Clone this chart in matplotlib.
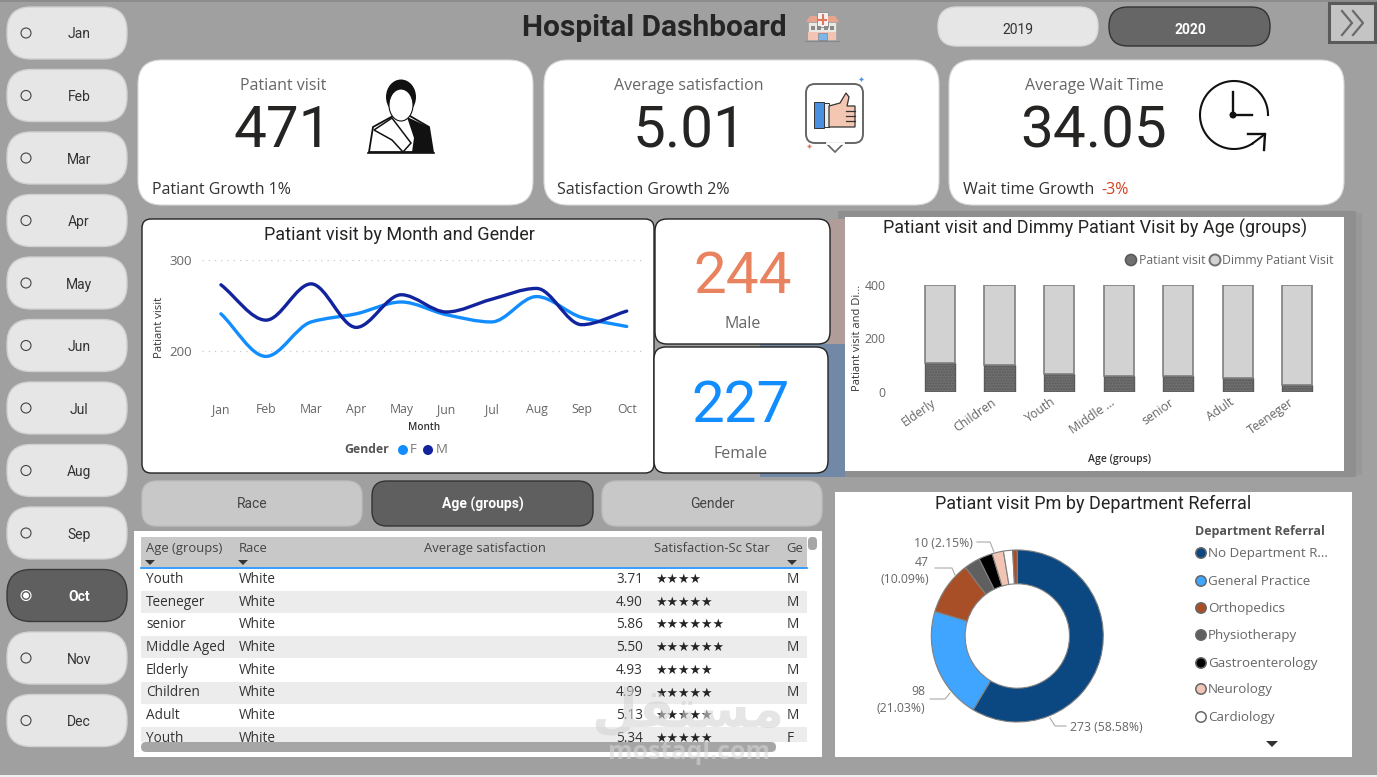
import numpy as np
import matplotlib
matplotlib.use("Agg")
import matplotlib.pyplot as plt
from matplotlib.patches import FancyBboxPatch, Rectangle, Circle, Ellipse, PathPatch, Polygon
from matplotlib.path import Path
from matplotlib.transforms import ScaledTranslation

W, H = 1377, 777
HEAD = "Roboto"
BODY = "Open Sans"

months = ["Jan", "Feb", "Mar", "Apr", "May", "Jun", "Jul", "Aug", "Sep", "Oct", "Nov", "Dec"]
selected_month = "Oct"

line_months = months[:10]
visits_f = [241, 194, 232, 241, 254, 240, 232, 260, 237, 227]
visits_m = [273, 234, 274, 226, 262, 243, 257, 269, 229, 244]

age_groups = ["Elderly", "Children", "Youth", "Middle ...", "senior", "Adult", "Teeneger"]
age_visits = [106, 100, 66, 59, 59, 52, 25]
age_dummy = [294, 300, 334, 341, 341, 348, 375]

departments = ["No Department R...", "General Practice", "Orthopedics", "Physiotherapy",
               "Gastroenterology", "Neurology", "Cardiology"]
dept_values = [273, 98, 47, 14, 12, 10, 8, 4]
dept_colors = ["#0B4780", "#3FA5FF", "#A94F28", "#5F5F5F", "#000000", "#F2C4B3", "#FFFFFF", "#A94F28"]

table_age = ["Youth", "Teeneger", "senior", "Middle Aged", "Elderly", "Children", "Adult", "Youth"]
table_sat = [3.71, 4.90, 5.86, 5.50, 4.93, 4.99, 5.13, 5.34]
table_stars = [4, 5, 6, 6, 5, 5, 5, 5]
table_gender = ["M", "M", "M", "M", "M", "M", "M", "F"]

fig = plt.figure(figsize=(W / 100, H / 100), dpi=100, facecolor="#A0A0A0")


def px_axes(l, t, r, b, z=2):
    a = fig.add_axes([l / W, 1 - b / H, (r - l) / W, (b - t) / H], zorder=z)
    a.patch.set_alpha(0)
    return a


bg = fig.add_axes([0, 0, 1, 1], zorder=0)
bg.set_xlim(0, W)
bg.set_ylim(H, 0)
bg.axis("off")
top = fig.add_axes([0, 0, 1, 1], zorder=5)
top.set_xlim(0, W)
top.set_ylim(H, 0)
top.axis("off")


def box(l, t, r, b, rad=0, fc="white", ec="none", lw=1, z=1, a=bg):
    if rad:
        p = FancyBboxPatch((l, t), r - l, b - t, boxstyle=f"round,pad=0,rounding_size={rad}",
                           fc=fc, ec=ec, lw=lw, zorder=z)
    else:
        p = Rectangle((l, t), r - l, b - t, fc=fc, ec=ec, lw=lw, zorder=z)
    a.add_patch(p)


def txt(x, y, s, size=10, color="#333333", ha="center", va="center", family=BODY, weight="normal", z=6, a=bg, **kw):
    # the centre of the glyphs sits a bit high with va=center, 1.5px pulls it back
    return a.text(x, y + 1.5, s, fontsize=size, color=color, ha=ha, va=va, family=family, weight=weight, zorder=z, **kw)


# page edges
box(0, 0, W, 2, fc="#8C8C8C")
box(0, 775, W, 777, fc="#EFEFEF")

# month slicer
for i, m in enumerate(months):
    cy = 33 + i * 62.5
    on = m == selected_month
    box(7, cy - 26, 127, cy + 26, rad=24, fc="#5F5F5F" if on else "#E6E6E6",
        ec="#3A3A3A" if on else "#D0D0D0", lw=1)
    bg.add_patch(Circle((26, cy), 5, fc="none", ec="white" if on else "#444444", lw=0.8, zorder=3))
    if on:
        bg.add_patch(Circle((26, cy), 3, fc="white", ec="none", zorder=3))
    txt(79, cy, m, 10, "white" if on else "#333333", family=HEAD, weight="bold" if on else "normal")

# header
txt(654, 26, "Hospital Dashboard", 21.5, "#252525", family=HEAD, weight="bold")
box(938, 7, 1098, 46, rad=19, fc="#E6E6E6", ec="#D8D8D8")
txt(1018, 29, "2019", 10, "#333333", family=HEAD)
box(1109, 7, 1270, 46, rad=19, fc="#666666", ec="#333333")
txt(1190, 29, "2020", 10, "white", family=HEAD, weight="bold")
box(1329, 3, 1375, 42, fc="#C4C4C4", ec="#5A5A5A", lw=2.2)
for dx in (0, 11):
    bg.plot([1342 + dx, 1352 + dx, 1342 + dx], [11, 23, 35], color="#6A6A6A", lw=1.6, zorder=4)

# hospital icon
box(808, 22, 836, 40, fc="#ECE9E4", ec="#A0A0A0", lw=0.5)
box(817, 12, 828, 27, fc="#F2F2F2", ec="#888888", lw=0.6, z=2)
bg.plot([822.5, 822.5], [15, 24], color="#E2765A", lw=1.5, zorder=3)
bg.plot([819, 826], [19.5, 19.5], color="#E2765A", lw=1.5, zorder=3)
bg.add_patch(Polygon([[810, 16], [817, 16], [817, 22], [806, 22]], fc="#E8A48E", ec="none", zorder=2))
bg.add_patch(Polygon([[828, 16], [835, 16], [839, 22], [828, 22]], fc="#E8A48E", ec="none", zorder=2))
for wx in (811, 817, 824, 830):
    box(wx, 26, wx + 3.5, 29.5, fc="#8A8A8A", z=2)
box(808, 32, 836, 40, fc="#F2C4B3", z=2)
box(818, 33, 827, 40, fc="#7CB5E8", ec="#777777", lw=0.4, z=3)
bg.plot([805, 839], [40.5, 40.5], color="#888888", lw=0.8, zorder=3)

# KPI cards
cards = [(138, "Patiant visit", "471", 283, "Patiant Growth 1%", 152),
         (544, "Average satisfaction", "5.01", 689, "Satisfaction Growth 2%", 557),
         (949, "Average Wait Time", "34.05", 1094, "Wait time Growth", 963)]
for left, label, value, cx, foot, fx in cards:
    box(left, 60, left + 395, 205, rad=24, fc="white", ec="#D8D8D8", lw=0.8)
    txt(cx, 85, label, 11.5, "#666666")
    txt(cx, 130, value, 42, "#252423", family=HEAD)
    txt(fx, 188, foot, 11.5, "#333333", ha="left")
txt(1101, 188, "-3%", 11.5, "#D6401F", ha="left")

# person icon
bg.add_patch(Polygon([[369, 152], [373, 127], [393, 116], [410, 116], [429, 127], [433, 152]],
                     fc="white", ec="#111111", lw=1.3, zorder=3))
bg.add_patch(Polygon([[407, 117], [429, 127], [433, 152], [412, 152], [414, 138]], fc="#111111", ec="none", zorder=4))
bg.add_patch(Polygon([[374, 130], [392, 118], [411, 143], [403, 152], [392, 140]],
                     fc="white", ec="#111111", lw=1.1, zorder=5))
bg.add_patch(Ellipse((401, 97), 30, 35, fc="#111111", ec="none", zorder=5))
bg.add_patch(Ellipse((401, 105), 24, 32, fc="white", ec="#111111", lw=0.8, zorder=6))
bg.plot([368, 434], [153, 153], color="#111111", lw=1.2, zorder=6)

# thumb icon
box(806, 84, 863, 143, rad=9, fc="white", ec="#666666", lw=1.4)
bg.add_patch(Polygon([[826, 143], [844, 143], [835, 152]], fc="white", ec="#666666", lw=1.2, zorder=2))
bg.plot([827, 843], [143, 143], color="white", lw=2, zorder=3)
box(814, 102, 824, 128, fc="#4A90E2", ec="#333333", lw=0.7, z=3)
box(824, 103, 829, 127, fc="#EDEDED", ec="#333333", lw=0.7, z=3)
bg.add_patch(Polygon([[829, 106], [840, 103], [846, 93], [849, 97], [847, 106], [855, 106], [855, 127], [829, 127]],
                     fc="#F4C7B2", ec="#333333", lw=0.9, zorder=3))
for fy in (111, 116, 121):
    bg.plot([846, 855], [fy, fy], color="#333333", lw=0.9, zorder=4)
bg.plot(861, 79, marker="+", color="#4A90E2", ms=3, zorder=3)
bg.plot(809, 146, marker="+", color="#E2765A", ms=3, zorder=3)

# clock icon
t = np.radians(np.arange(0, 306, 3))
bg.plot(1234 + 34 * np.cos(t), 115 - 34 * np.sin(t), color="#111111", lw=1.5, zorder=3)
bg.plot([1234 + 34 * np.cos(t[-1]), 1265], [115 - 34 * np.sin(t[-1]), 134], color="#111111", lw=1.5, zorder=3)
bg.plot([1248, 1265, 1264], [134, 134, 150], color="#111111", lw=1.7, zorder=3)
bg.plot([1233, 1233, 1252], [92, 115, 115], color="#111111", lw=1.7, zorder=3)
bg.add_patch(Circle((1233, 115), 3.5, fc="#111111", zorder=3))

# shadow of the bar card, tinted by the gender cards next to it
box(838, 211, 1356, 477, fc="#8F8F8F", z=0)
box(1356, 213, 1362, 475, fc="#989898", z=0)
box(830, 219, 845, 344, fc="#B09C98", z=0)
box(760, 344, 845, 477, fc="#7189A6", z=0)

# line chart card
box(142, 219, 654, 473, rad=9, fc="white", ec="#222222", lw=1)
txt(399, 233, "Patiant visit by Month and Gender", 13, "#252423", family=HEAD)
ax = px_axes(202, 260.3, 645, 396.3)
ax.set_xlim(-0.42, 9.405)
ax.set_ylim(150, 300)
for s in ax.spines.values():
    s.set_visible(False)
ax.set_yticks([200, 300])
ax.grid(axis="y", color="#C8C8C8", ls=(0, (1, 4)), lw=0.9)
ax.set_axisbelow(True)
ax.set_xticks(range(len(line_months)))
ax.set_xticklabels(line_months, family=BODY, fontsize=8.8, color="#666666")
ax.tick_params(length=0, pad=5)
ax.tick_params(axis="y", labelsize=9.5, labelcolor="#666666", pad=7)
for lab in ax.get_yticklabels():
    lab.set_family(BODY)


def smooth_path(ys):
    # monotone cubic through the points, same look as the Power BI smooth line
    ys = np.array(ys, float)
    d = np.diff(ys)
    m = np.zeros(len(ys))
    m[0], m[-1] = d[0], d[-1]
    for i in range(1, len(ys) - 1):
        m[i] = 0 if d[i - 1] * d[i] <= 0 else 2 * d[i - 1] * d[i] / (d[i - 1] + d[i])
    verts = [(0, ys[0])]
    codes = [Path.MOVETO]
    for i in range(len(ys) - 1):
        verts += [(i + 1 / 3, ys[i] + m[i] / 3), (i + 2 / 3, ys[i + 1] - m[i + 1] / 3), (i + 1, ys[i + 1])]
        codes += [Path.CURVE4] * 3
    return Path(verts, codes)


ax.add_patch(PathPatch(smooth_path(visits_f), fc="none", ec="#118DFF", lw=2.4, capstyle="round"))
ax.add_patch(PathPatch(smooth_path(visits_m), fc="none", ec="#12239E", lw=2.4, capstyle="round"))
txt(159, 326, "Patiant visit", 8.2, "#333333", rotation=90)
txt(424, 426, "Month", 7.2, "#333333", weight="semibold")
txt(367, 448, "Gender", 8.8, "#555555", weight="bold")
bg.add_patch(Circle((403, 450), 5, fc="#118DFF", zorder=3))
txt(410, 448, "F", 9.5, "#777777", ha="left")
bg.add_patch(Circle((428, 450), 5, fc="#12239E", zorder=3))
txt(436, 448, "M", 9.5, "#777777", ha="left")

# male / female cards
box(655, 219, 830, 344, rad=12, fc="white", ec="#222222", lw=1)
txt(743, 276, "244", 42, "#E8825F", family=HEAD)
txt(743, 323, "Male", 11.5, "#666666")
box(654, 347, 828, 473, rad=12, fc="white", ec="#222222", lw=1)
txt(741, 405, "227", 42, "#118DFF", family=HEAD)
txt(741, 452, "Female", 11.5, "#666666")

# bar chart card
box(845, 217, 1344, 471, fc="white")
txt(1095, 227, "Patiant visit and Dimmy Patiant Visit by Age (groups)", 13, "#252423", family=HEAD)
ax2 = px_axes(908, 284.7, 1330, 391.7)
x = np.arange(len(age_groups))
ax2.bar(x, age_visits, width=0.51, color="#707070", edgecolor="#5A5A5A", lw=1, hatch="......")
ax2.bar(x, age_dummy, width=0.51, bottom=age_visits, color="#D2D2D2", edgecolor="#808080", lw=1.2)
ax2.set_xlim(-0.54, 6.55)
ax2.set_ylim(0, 400)
for s in ax2.spines.values():
    s.set_visible(False)
ax2.set_yticks([0, 200, 400])
ax2.set_xticks(x)
ax2.set_xticklabels(age_groups, rotation=35, ha="right", rotation_mode="anchor", family=BODY, fontsize=8.8, color="#666666")
ax2.tick_params(length=0, pad=3)
ax2.tick_params(axis="y", labelsize=8.8, labelcolor="#666666", pad=16)
for lab in ax2.get_yticklabels():
    lab.set_family(BODY)
for lab in ax2.get_xticklabels():
    lab.set_transform(lab.get_transform() + ScaledTranslation(-9 / 100, 0, fig.dpi_scale_trans))
txt(858, 336, "Patiant visit and Di...", 8, "#333333", rotation=90)
txt(1120, 458, "Age (groups)", 7.6, "#333333", weight="semibold")
bg.add_patch(Circle((1131, 260), 5.5, fc="#707070", ec="#5A5A5A", lw=1.2, zorder=3))
txt(1139, 259, "Patiant visit", 8.8, "#666666", ha="left")
bg.add_patch(Circle((1215, 260), 5.5, fc="#D2D2D2", ec="#707070", lw=1.4, zorder=3))
txt(1222, 259, "Dimmy Patiant Visit", 8.8, "#666666", ha="left")

# field buttons
buttons = [("Race", 142, 362, False), ("Age (groups)", 372, 593, True), ("Gender", 602, 822, False)]
for name, l, r, on in buttons:
    box(l, 481, r, 526, rad=15, fc="#5F5F5F" if on else "#C8C8C8", ec="#333333" if on else "#BDBDBD")
    txt((l + r) / 2, 503, name, 10, "white" if on else "#444444", family=HEAD, weight="bold" if on else "normal")

# table
box(134, 531, 822, 757, fc="white")
box(141, 537, 807, 567, fc="#C8C8C8", z=2)
bg.plot([141, 807], [567.5, 567.5], color="#118DFF", lw=1.2, zorder=3)
headers = [(146, "Age (groups)", "left"), (239, "Race", "left"), (424, "Average satisfaction", "left"),
           (654, "Satisfaction-Sc Star", "left")]
for hx, name, ha in headers:
    txt(hx, 547, name, 9.4, "#444444", ha=ha, z=4)
txt(786, 547, "Ge", 9.4, "#444444", ha="left", z=4)
for ax_x in (150, 243, 792):
    bg.add_patch(Polygon([[ax_x - 5, 560], [ax_x + 5, 560], [ax_x, 565]], fc="#333333", ec="none", zorder=4))
for i in range(len(table_age)):
    cy = 578 + i * 22.7
    if i % 2:
        box(141, cy - 10, 807, cy + 12, fc="#ECECEC", z=2)
    txt(146, cy, table_age[i], 9.8, "#333333", ha="left", z=3)
    txt(239, cy, "White", 9.8, "#333333", ha="left", z=3)
    txt(643, cy, f"{table_sat[i]:.2f}", 9.8, "#333333", ha="right", z=3)
    txt(655, cy, "★" * table_stars[i], 9.3, "#252423", ha="left", family="DejaVu Sans", z=3)
    txt(787, cy, table_gender[i], 9.8, "#333333", ha="left", z=3)
box(134, 742, 822, 757, fc="white", z=4)
box(141, 742, 776, 752, rad=5, fc="#A6A6A6", z=5)
box(808, 537, 817, 550, rad=4, fc="#A6A6A6", z=5)

# donut card
box(835, 492, 1352, 757, fc="white", z=1)
txt(1093, 502, "Patiant visit Pm by Department Referral", 13, "#252423", family=HEAD)
ax3 = px_axes(1017.3 - 87, 636 - 87, 1017.3 + 87, 636 + 87)
ax3.pie(dept_values, colors=dept_colors, startangle=90, counterclock=False, radius=1,
        wedgeprops=dict(width=0.393, edgecolor="#808080", linewidth=0.8))
ax3.set_xlim(-87 / 86, 87 / 86)
ax3.set_ylim(-87 / 86, 87 / 86)

leaders = [([977, 990, 994], [542, 542, 552]), ([935, 952, 955], [568, 568, 575]),
           ([930, 945, 950], [699, 699, 693]), ([1066, 1055, 1050], [726, 726, 718])]
for lx, ly in leaders:
    bg.plot(lx, ly, color="#AAAAAA", lw=0.8, zorder=3)
txt(973, 542, "10 (2.15%)", 8.8, "#666666", ha="right")
txt(922, 561, "47", 8.8, "#666666")
txt(929, 578, "(10.09%)", 8.8, "#666666", ha="right")
txt(918, 690, "98", 8.8, "#666666")
txt(925, 707, "(21.03%)", 8.8, "#666666", ha="right")
txt(1070, 726, "273 (58.58%)", 8.8, "#666666", ha="left")

txt(1195, 530, "Department Referral", 9, "#555555", ha="left", weight="bold")
legend_y = [553, 581, 608, 635, 663, 689, 717]
for ly, name, col in zip(legend_y, departments, dept_colors):
    bg.add_patch(Circle((1201, ly), 5.2, fc=col, ec="#666666", lw=1.1, zorder=3))
    txt(1208, ly - 1, name, 9.6, "#666666", ha="left")
bg.add_patch(Polygon([[1266, 741], [1278, 741], [1272, 747]], fc="#333333", ec="none", zorder=3))

# watermark on top of the table
txt(688, 710, "\ufede\ufed8\ufe98\ufeb4\ufee3", 38, "#D4D4D4", family="DejaVu Sans", weight="bold", a=top, alpha=0.6)
txt(689, 751, "mostaql.com", 18, "#D8D8D8", family=BODY, weight="bold", a=top, alpha=0.55)

fig.savefig("out.png", dpi=100, facecolor=fig.get_facecolor())
